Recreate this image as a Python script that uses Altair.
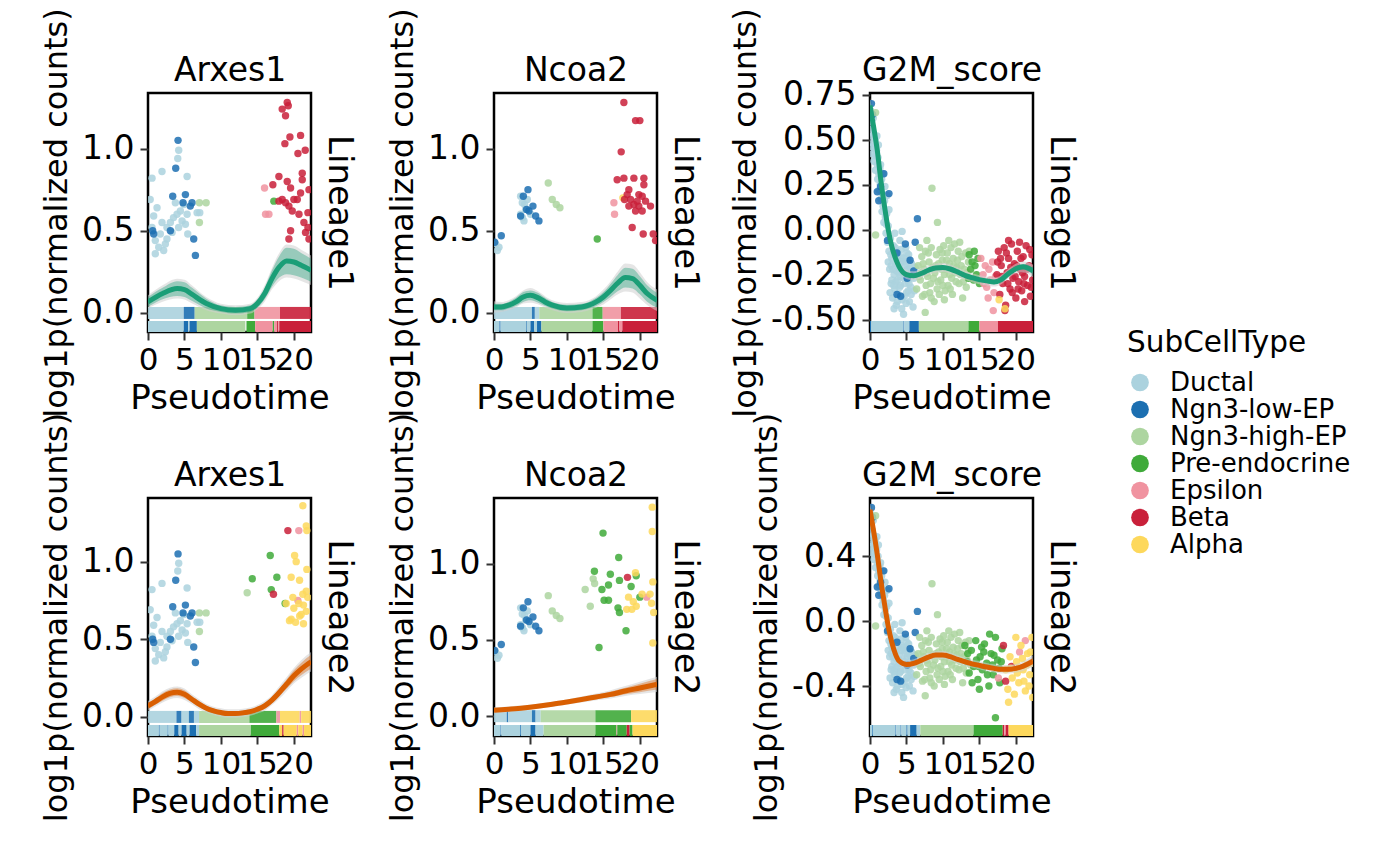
import altair as alt
import pandas as pd

FONT = "DejaVu Sans"
TYPES = ["Ductal", "Ngn3-low-EP", "Ngn3-high-EP", "Pre-endocrine", "Epsilon", "Beta", "Alpha"]
COLORS = ["#ABD2DE", "#1C6FB1", "#ADD5A0", "#3FAA3A", "#F093A0", "#C9203A", "#FDD85C"]
CODE = {"D": "Ductal", "L": "Ngn3-low-EP", "H": "Ngn3-high-EP", "P": "Pre-endocrine",
        "E": "Epsilon", "B": "Beta", "A": "Alpha"}
GREEN = "#1B9E77"
ORANGE = "#D95F02"
X_DOMAIN = [0, 22.35]
X_TICKS = [0, 5, 10, 15, 20]

# ---------------- Arxes1 ----------------
ARX_EARLY_DUCTAL = [(0.55,0.82),(1.92,0.86),(0.30,0.69),(0.78,0.59),(0.55,0.52),(1.00,0.44),(1.00,0.36),(1.47,0.40),
    (2.15,0.38),(1.92,0.55),(2.60,0.52),(3.07,0.55),(2.60,0.45),(3.50,0.58),(3.98,0.60),(4.44,0.62),(4.67,0.56),
    (4.20,0.52),(3.30,0.49),(5.36,0.83),(4.08,0.94),(4.21,0.99),(4.90,0.66),(5.36,0.60),(5.13,0.54),(5.45,0.48),
    (6.73,0.61),(7.10,0.61),(3.75,0.67),(1.24,0.64),(1.69,0.48),(2.38,0.42)]
ARX_EARLY_LOW = [(4.12,1.05),(3.80,0.88),(3.39,0.71),(5.13,0.72),(4.80,0.67),(6.04,0.67),(5.80,0.65),(0.64,0.50),
    (3.07,0.50),(6.27,0.45),(6.50,0.35),(0.78,0.48)]
ARX_EARLY_HIGH = [(7.05,0.67),(7.97,0.67),(7.05,0.55)]
ARX_L1_PRE = [(17.26,0.68)]
ARX_L1_EPS = [(15.98,0.76),(16.12,0.60),(16.58,0.60)]
ARX_L1_BETA = [(19.09,1.28),(19.23,1.26),(18.40,1.24),(18.86,1.20),(19.46,1.07),(20.92,1.08),(18.77,1.03),(21.56,0.99),
    (20.56,0.97),(17.95,0.83),(17.12,0.78),(19.09,0.80),(19.55,0.76),(21.15,0.85),(21.15,0.81),(20.92,0.73),(20.47,0.69),
    (18.40,0.69),(18.86,0.67),(19.32,0.65),(19.78,0.62),(20.70,0.60),(22.07,0.75),(21.93,0.61),(21.38,0.55),(21.93,0.52),
    (21.60,0.49),(19.55,0.50),(19.32,0.45),(22.07,0.45),(17.95,0.68),(20.00,0.69)]
ARX_L2_HIGH = [(13.6,0.80)]
ARX_L2_PRE = [(16.76,1.04),(14.3,0.89),(17.67,0.90),(16.9,0.82),(18.8,0.73)]
ARX_L2_BETA = [(19.18,1.20),(17.2,0.79)]
ARX_L2_EPS = [(20.68,1.20),(20.55,0.75)]
ARX_L2_ALPHA = [(21.23,1.36),(21.78,1.20),(21.7,1.23),(20.1,1.04),(20.32,1.00),(19.63,0.90),(20.78,0.88),(21.78,0.95),
    (21.7,0.81),(21.23,0.79),(19.86,0.77),(20.68,0.73),(21.32,0.72),(18.95,0.73),(20.0,0.70),(21.0,0.66),(19.63,0.63),
    (19.4,0.62),(20.23,0.61),(21.32,0.60),(21.7,0.68),(20.8,0.65),(21.9,0.77)]

ARX_L1_ZERO = [(0,4.9,"D"),(4.9,6.4,"L"),(6.4,13.6,"H"),(13.6,14.6,"P"),(14.6,18.1,"E"),(18.1,22.35,"B")]
ARX_L1_RUG = [(0,4.9,"D"),(4.9,5.5,"L"),(5.5,5.7,"D"),(5.7,6.7,"L"),(6.7,13.35,"H"),(13.5,14.7,"P"),(14.7,17.1,"E"),
    (17.1,17.3,"P"),(17.3,17.7,"E"),(17.7,17.85,"B"),(17.85,18.0,"E"),(18.0,22.35,"B")]
ARX_L2_ZERO = [(0,3.9,"D"),(3.9,4.6,"L"),(4.6,5.6,"D"),(5.6,6.3,"L"),(6.3,7.0,"D"),(7.0,13.9,"H"),(13.9,17.6,"P"),
    (17.6,18.1,"E"),(18.1,20.8,"A"),(20.8,21.0,"E"),(21.0,22.35,"A")]
ARX_L2_RUG = [(0,1.5,"D"),(1.5,1.6,"L"),(1.6,2.7,"D"),(2.7,2.8,"L"),(2.8,3.6,"D"),(3.6,4.2,"L"),(4.2,4.6,"D"),
    (4.6,5.3,"L"),(5.3,5.7,"D"),(5.7,6.6,"L"),(6.6,7.0,"D"),(7.0,14.1,"H"),(14.1,18.0,"P"),(18.0,18.4,"A"),
    (18.4,18.6,"B"),(18.6,20.4,"A"),(20.4,20.6,"E"),(20.6,21.2,"A"),(21.2,21.4,"E"),(21.4,22.35,"A")]

ARX_L1_LX = [0, 2, 4, 5, 6, 8, 10, 12, 14, 15, 16, 17, 18, 19, 20, 21, 22.35]
ARX_L1_LY = [0.067, 0.118, 0.148, 0.142, 0.114, 0.057, 0.026, 0.016, 0.026, 0.057, 0.118, 0.209, 0.280, 0.316, 0.310, 0.290, 0.260]
ARX_L1_CSE = [0.03, 0.035, 0.045, 0.045, 0.04, 0.03, 0.02, 0.02, 0.02, 0.025, 0.035, 0.05, 0.065, 0.08, 0.08, 0.075, 0.07]
ARX_L1_GSE = [0.04, 0.05, 0.06, 0.06, 0.055, 0.04, 0.03, 0.03, 0.03, 0.035, 0.05, 0.065, 0.085, 0.10, 0.10, 0.095, 0.09]
ARX_L2_LX = [0, 1, 2, 3, 4, 5, 6, 7, 8, 9, 10, 11, 12, 13, 14, 15, 16, 17, 18, 19, 20, 21, 22.35]
ARX_L2_LY = [0.071, 0.099, 0.129, 0.151, 0.159, 0.146, 0.114, 0.082, 0.056, 0.039, 0.028, 0.022, 0.022, 0.026,
    0.034, 0.049, 0.071, 0.108, 0.157, 0.211, 0.265, 0.308, 0.355]
ARX_L2_CSE = [0.02, 0.02, 0.025, 0.025, 0.025, 0.025, 0.02, 0.02, 0.015, 0.015, 0.015, 0.015, 0.015, 0.015,
    0.015, 0.015, 0.02, 0.02, 0.025, 0.03, 0.035, 0.04, 0.045]
ARX_L2_GSE = [0.032, 0.032, 0.037, 0.037, 0.037, 0.037, 0.032, 0.032, 0.027, 0.027, 0.027, 0.027, 0.027, 0.027,
    0.027, 0.027, 0.032, 0.032, 0.04, 0.045, 0.05, 0.057, 0.063]

# ---------------- Ncoa2 ----------------
NCOA_EARLY_DUCTAL = [(0.23,0.42),(0.46,0.38),(0.68,0.40),(3.65,0.71),(3.88,0.67),(3.65,0.60),(4.11,0.56),(4.34,0.63),
    (4.57,0.69),(5.02,0.60),(3.9,0.58),(4.2,0.66)]
NCOA_EARLY_LOW = [(0.09,0.43),(1.00,0.47),(4.66,0.75),(4.02,0.71),(3.65,0.59),(4.47,0.63),(5.34,0.65),(5.71,0.59),
    (6.16,0.56),(4.79,0.62)]
NCOA_EARLY_HIGH = [(7.44,0.79),(7.99,0.69),(8.54,0.66),(9.04,0.64)]
NCOA_L1_PRE = [(14.16,0.45)]
NCOA_L1_EPS = [(16.44,0.67),(16.53,0.60)]
NCOA_L1_ALPHA = [(17.67,0.70)]
NCOA_L1_BETA = [(17.81,1.28),(19.41,1.17),(20.0,1.17),(17.44,0.98),(16.89,0.81),(17.81,0.82),(19.18,0.82),(20.55,0.82),
    (20.55,0.78),(18.49,0.75),(18.26,0.72),(18.72,0.69),(19.86,0.72),(20.32,0.71),(20.78,0.68),(19.18,0.66),(18.49,0.65),
    (19.86,0.65),(21.46,0.65),(19.41,0.62),(20.32,0.62),(18.95,0.52),(20.46,0.48),(21.83,0.48),(22.15,0.44),(17.9,0.69),
    (19.63,0.68)]
NCOA_L2_HIGH = [(12.5,0.83),(13.2,0.72),(13.6,0.90),(13.8,0.87)]
NCOA_L2_PRE = [(14.95,1.20),(17.1,1.04),(13.77,0.95),(15.95,0.93),(17.2,0.89),(14.8,0.83),(15.7,0.86),(18.8,0.85),
    (15.1,0.76),(15.7,0.76),(17.0,0.71),(17.2,0.68),(18.1,0.56),(14.4,0.45),(19.5,0.92),(20.0,0.78)]
NCOA_L2_BETA = [(18.3,0.91)]
NCOA_L2_EPS = [(20.95,0.78)]
NCOA_L2_ALPHA = [(21.7,1.37),(21.7,1.21),(19.4,0.94),(18.45,0.78),(19.1,0.75),(19.5,0.72),(20.3,0.80),(21.4,0.80),
    (21.6,0.74),(21.9,0.68),(18.2,0.70),(18.9,0.70),(21.77,0.88),(21.77,0.48)]

NCOA_L1_ZERO = [(0,5.2,"D"),(5.2,5.6,"L"),(5.6,6.2,"D"),(6.2,13.5,"H"),(13.5,14.9,"P"),(14.9,17.4,"E"),(17.4,22.35,"B")]
NCOA_L1_RUG = [(0,0.75,"D"),(0.75,0.9,"L"),(0.9,4.4,"D"),(4.4,4.5,"L"),(4.5,5.0,"D"),(5.0,5.5,"L"),(5.5,5.9,"D"),
    (5.9,6.5,"L"),(6.5,13.5,"H"),(13.5,15.0,"P"),(15.0,17.0,"E"),(17.0,17.2,"B"),(17.2,17.6,"E"),(17.6,22.35,"B")]
NCOA_L2_ZERO = [(0,1.75,"D"),(1.75,1.95,"L"),(1.95,5.2,"D"),(5.2,5.7,"L"),(5.7,6.4,"D"),(6.4,13.9,"H"),
    (13.9,18.8,"P"),(18.8,22.35,"A")]
NCOA_L2_RUG = [(0,0.9,"D"),(0.9,1.0,"L"),(1.0,3.6,"D"),(3.6,3.7,"L"),(3.7,5.0,"D"),(5.0,5.7,"L"),(5.7,6.8,"D"),
    (6.8,13.9,"H"),(13.9,16.8,"P"),(16.8,16.9,"E"),(16.9,18.2,"P"),(18.2,18.6,"B"),(18.6,19.0,"P"),(19.0,22.35,"A")]

NCOA_L1_LX = [0, 1, 2, 3, 4, 5, 6, 7, 8, 10, 12, 13, 14, 15, 16, 17, 18, 19, 20, 21, 22.35]
NCOA_L1_LY = [0.036, 0.036, 0.047, 0.067, 0.097, 0.107, 0.093, 0.067, 0.047, 0.030, 0.036, 0.047, 0.067, 0.097,
    0.138, 0.183, 0.215, 0.209, 0.168, 0.118, 0.077]
NCOA_L1_CSE = [0.02, 0.02, 0.02, 0.025, 0.03, 0.03, 0.03, 0.025, 0.02, 0.02, 0.02, 0.02, 0.025, 0.03, 0.04, 0.05,
    0.06, 0.06, 0.055, 0.05, 0.045]
NCOA_L1_GSE = [0.035, 0.03, 0.03, 0.035, 0.04, 0.045, 0.04, 0.035, 0.03, 0.03, 0.03, 0.03, 0.035, 0.045, 0.055,
    0.07, 0.085, 0.085, 0.08, 0.07, 0.065]
NCOA_L2_LX = [0, 2, 4, 6, 8, 10, 12, 14, 16, 18, 20, 22.35]
NCOA_L2_LY = [0.039, 0.046, 0.054, 0.065, 0.078, 0.093, 0.109, 0.126, 0.143, 0.165, 0.185, 0.209]
NCOA_L2_CSE = [0.012, 0.01, 0.01, 0.01, 0.01, 0.01, 0.012, 0.014, 0.018, 0.022, 0.028, 0.035]
NCOA_L2_GSE = [0.02, 0.018, 0.017, 0.017, 0.017, 0.017, 0.02, 0.022, 0.027, 0.032, 0.04, 0.05]

# ---------------- G2M_score ----------------
G2M_EARLY_DUCTAL = [(0.1,0.66),(0.2,0.60),(0.15,0.52),(0.3,0.56),(0.4,0.48),(0.35,0.42),(0.5,0.53),(0.6,0.45),
    (0.55,0.38),(0.7,0.50),(0.8,0.41),(0.75,0.33),(0.9,0.44),(1.0,0.36),(1.05,0.28),(1.1,0.40),(1.2,0.31),(1.25,0.22),
    (1.35,0.34),(1.4,0.25),(1.5,0.17),(1.6,0.28),(1.65,0.10),(1.7,0.20),(1.8,0.13),(1.9,0.04),(2.0,0.16),(2.1,0.07),
    (2.2,-0.02),(2.3,0.09),(2.4,-0.07),(2.5,0.02),(2.6,-0.12),(2.7,-0.22),(2.8,-0.05),(2.9,-0.30),(3.0,-0.16),
    (3.1,-0.38),(3.2,-0.09),(3.3,-0.25),(3.4,-0.33),(3.5,-0.19),(3.6,-0.42),(3.7,-0.12),(3.8,-0.28),(3.9,-0.36),
    (4.0,-0.21),(4.1,-0.06),(4.2,-0.31),(4.3,-0.15),(4.4,-0.39),(4.5,-0.24),(4.6,-0.47),(4.7,-0.18),(4.8,-0.30),
    (4.9,-0.10),(5.0,-0.35),(5.1,-0.22),(5.2,-0.28),(5.3,-0.14),(5.4,-0.40),(5.5,-0.25),(5.6,-0.32),(5.7,-0.19),
    (5.9,-0.43),(6.0,-0.27),(6.2,-0.21),(3.4,-0.02),(4.4,-0.01),(2.9,-0.20),(3.3,-0.44),(3.8,-0.17),(4.2,-0.26),
    (4.7,-0.37),(5.2,-0.17),(3.0,-0.28),(2.5,-0.18),(2.2,0.03),(2.75,-0.35),(3.15,-0.22),(3.45,-0.10),(3.55,-0.29),
    (3.75,-0.40),(3.95,-0.24),(4.05,-0.32),(4.25,-0.11),(4.35,-0.44),(4.55,-0.16),(4.65,-0.27),(4.85,-0.20),
    (4.95,-0.41),(5.05,-0.13),(5.25,-0.34),(5.45,-0.21),(5.65,-0.36),(5.8,-0.26),(6.1,-0.34),(2.85,-0.14),
    (3.25,-0.31),(3.65,-0.23),(4.15,-0.18),(4.75,-0.25),(5.35,-0.30),(1.15,0.47),(1.45,0.36),(1.75,0.31),
    (0.95,0.52),(2.05,0.24),(2.35,0.19),(2.6,0.11),(0.45,0.62),(0.25,0.46)]
G2M_EARLY_LOW = [(0.2,0.70),(0.35,0.64),(1.0,0.21),(1.2,0.16),(1.45,0.24),(1.9,0.31),(2.6,0.20),(2.4,-0.06),
    (3.7,-0.13),(4.85,-0.08),(6.2,-0.07),(6.5,0.06),(5.5,-0.17),(3.7,-0.36),(4.2,-0.37),(5.1,-0.27),(6.0,-0.23)]
G2M_EARLY_HIGH = [(0.77,-0.03),(0.77,0.65),(8.5,0.23),(9.25,0.04),(7.8,-0.06),(7.57,-0.46),(6.6,-0.20),(6.4,-0.33),
    (7.1,-0.15),(6.9,-0.28),(7.2,-0.37),(7.6,-0.12),(7.4,-0.22),(7.7,-0.31),(8.1,-0.18),(7.9,-0.26),(8.2,-0.35),
    (8.4,-0.10),(8.6,-0.21),(8.3,-0.30),(9.1,-0.14),(8.9,-0.24),(9.2,-0.33),(8.8,-0.40),(9.6,-0.11),(9.4,-0.19),
    (9.7,-0.28),(10.1,-0.09),(9.9,-0.17),(10.2,-0.25),(10.3,-0.34),(10.6,-0.13),(10.4,-0.22),(10.7,-0.31),
    (11.1,-0.10),(10.9,-0.19),(11.2,-0.27),(11.3,-0.36),(11.6,-0.08),(11.4,-0.16),(11.7,-0.24),(12.1,-0.12),
    (11.9,-0.21),(12.2,-0.30),(12.6,-0.15),(12.4,-0.25),(12.7,-0.38),(13.1,-0.13),(12.9,-0.22),(13.2,-0.32),
    (13.5,-0.18),(13.8,-0.27),(6.8,-0.10),(9.5,-0.36),(10.8,-0.06),(12.3,-0.07),(6.7,-0.26),(7.3,-0.19),
    (7.8,-0.24),(8.0,-0.13),(8.7,-0.27),(9.0,-0.20),(9.3,-0.29),(9.8,-0.22),(10.0,-0.31),(10.5,-0.17),(10.9,-0.25),
    (11.5,-0.20),(11.8,-0.29),(12.0,-0.17),(12.5,-0.20),(12.8,-0.29),(13.3,-0.24),(13.6,-0.12),(7.5,-0.36),
    (8.4,-0.38),(10.2,-0.39),(11.0,-0.33),(9.9,-0.13),(7.0,-0.24)]
G2M_L1_PRE = [(13.6,-0.14),(13.8,-0.22),(14.0,-0.18),(14.2,-0.28),(14.4,-0.20),(14.6,-0.25),(14.8,-0.16),(15.0,-0.30),
    (13.5,-0.27),(14.3,-0.12)]
G2M_L1_EPS = [(15.2,-0.16),(15.5,-0.25),(15.8,-0.20),(16.0,-0.32),(16.3,-0.22),(16.5,-0.28),(16.8,-0.18),(17.0,-0.35),
    (17.2,-0.26),(16.2,-0.38),(16.9,-0.45),(15.6,-0.30)]
G2M_L1_BETA = [(17.4,-0.25),(17.6,-0.12),(17.8,-0.36),(18.0,-0.20),(18.2,-0.30),(18.4,-0.10),(18.6,-0.42),(18.8,-0.24),
    (19.0,-0.16),(19.2,-0.33),(19.4,-0.08),(19.6,-0.27),(19.8,-0.19),(20.0,-0.38),(20.2,-0.12),(20.4,-0.29),
    (20.6,-0.22),(20.8,-0.34),(21.0,-0.15),(21.2,-0.26),(21.4,-0.09),(21.6,-0.31),(21.8,-0.20),(22.0,-0.37),
    (22.2,-0.14),(22.3,-0.28),(18.5,-0.45),(21.2,-0.40),(19.0,-0.06),(20.5,-0.07),(17.9,-0.16),(19.5,-0.35),
    (20.9,-0.24),(21.9,-0.11),(17.5,-0.18),(18.1,-0.26),(18.9,-0.30),(19.3,-0.21),(19.9,-0.26),(20.3,-0.33),
    (20.7,-0.16),(21.1,-0.30),(21.5,-0.22),(22.1,-0.32),(18.7,-0.13),(20.1,-0.20)]
G2M_L1_ALPHA = [(17.7,-0.39),(18.5,-0.44)]
G2M_L2_PRE = [(13.0,-0.15),(13.3,-0.25),(13.6,-0.32),(13.9,-0.18),(14.2,-0.28),(14.5,-0.12),(14.8,-0.36),(15.1,-0.22),
    (15.4,-0.30),(15.7,-0.14),(16.0,-0.26),(16.3,-0.40),(16.6,-0.20),(16.9,-0.33),(17.2,-0.10),(17.5,-0.24),
    (17.8,-0.38),(18.1,-0.17),(16.4,-0.08),(17.2,-0.595),(15.0,-0.42),(14.0,-0.38),(15.6,-0.19),(16.8,-0.27),
    (13.4,-0.20),(14.6,-0.24),(15.3,-0.16),(16.1,-0.33),(17.0,-0.21),(17.7,-0.29),(18.0,-0.25),(14.9,-0.28)]
G2M_L2_BETA = [(18.3,-0.15),(18.6,-0.37),(19.4,-0.28)]
G2M_L2_EPS = [(17.6,-0.35),(20.5,-0.19),(21.3,-0.12)]
G2M_L2_ALPHA = [(18.6,-0.30),(18.9,-0.42),(19.2,-0.22),(19.5,-0.35),(19.8,-0.45),(20.1,-0.25),(20.4,-0.38),
    (20.7,-0.15),(21.0,-0.30),(21.3,-0.43),(21.6,-0.20),(21.9,-0.33),(22.2,-0.10),(22.3,-0.47),(20.0,-0.10),
    (21.8,-0.40),(19.0,-0.50),(22.1,-0.26),(19.3,-0.29),(20.2,-0.32),(20.9,-0.23),(21.5,-0.27),(22.0,-0.19),
    (21.1,-0.37)]

G2M_L1_RUG = [(0,0.15,"L"),(0.15,4.6,"D"),(4.6,4.7,"L"),(4.7,5.4,"D"),(5.4,6.7,"L"),(6.7,13.5,"H"),(13.5,15.0,"P"),
    (15.0,17.55,"E"),(17.55,22.35,"B")]
G2M_L2_RUG = [(0,0.3,"D"),(0.3,0.4,"L"),(0.4,3.5,"D"),(3.5,3.6,"L"),(3.6,4.2,"D"),(4.2,4.3,"L"),(4.3,5.0,"D"),
    (5.0,5.15,"L"),(5.15,5.5,"D"),(5.5,6.4,"L"),(6.4,6.9,"D"),(6.9,14.2,"H"),(14.2,18.2,"P"),(18.2,18.4,"B"),
    (18.4,18.6,"E"),(18.6,19.0,"B"),(19.0,22.35,"A")]

G2M_LX = [0, 0.5, 1, 1.5, 2, 2.5, 3, 3.5, 4, 5, 6, 7, 8, 9, 10, 11, 12, 13, 14, 15, 16, 17, 18, 19, 20, 21, 22.35]
G2M_L1_LY = [0.69, 0.57, 0.44, 0.27, 0.126, 0.0, -0.096, -0.16, -0.207, -0.25, -0.257, -0.244, -0.226, -0.213,
    -0.211, -0.219, -0.235, -0.254, -0.267, -0.278, -0.285, -0.291, -0.278, -0.244, -0.217, -0.207, -0.23]
G2M_L2_LY = [0.687, 0.554, 0.41, 0.246, 0.103, -0.031, -0.133, -0.205, -0.246, -0.267, -0.26, -0.242, -0.222,
    -0.209, -0.209, -0.219, -0.236, -0.25, -0.263, -0.273, -0.283, -0.291, -0.297, -0.297, -0.291, -0.277, -0.246]
G2M_CSE = [0.03, 0.02, 0.015, 0.013, 0.012, 0.012, 0.012, 0.012, 0.012, 0.012, 0.012, 0.012, 0.012, 0.012,
    0.012, 0.012, 0.012, 0.012, 0.012, 0.012, 0.012, 0.012, 0.012, 0.013, 0.014, 0.016, 0.02]
G2M_GSE = [0.045, 0.035, 0.03, 0.027, 0.025, 0.025, 0.025, 0.025, 0.025, 0.025, 0.025, 0.025, 0.025, 0.025,
    0.025, 0.025, 0.025, 0.025, 0.025, 0.025, 0.025, 0.025, 0.025, 0.026, 0.027, 0.03, 0.035]


def pts_df(groups):
    rows = []
    for code, pairs in groups:
        for x, y in pairs:
            rows.append({"x": x, "y": y, "type": CODE[code]})
    return pd.DataFrame(rows)


def seg_df(segs):
    return pd.DataFrame({"start": [s[0] for s in segs], "end": [s[1] for s in segs],
                         "type": [CODE[s[2]] for s in segs]})


def line_df(xs, ys, cse, gse):
    return pd.DataFrame({
        "x": xs, "y": ys,
        "clo": [y - c for y, c in zip(ys, cse)], "chi": [y + c for y, c in zip(ys, cse)],
        "glo": [y - g for y, g in zip(ys, gse)], "ghi": [y + g for y, g in zip(ys, gse)],
    })


def panel(title, lineage, lcolor, groups, zero, rug, lx, ly, cse, gse, ydom, yticks, ydec, h):
    xs = alt.Scale(domain=X_DOMAIN, nice=False, zero=False)
    ys = alt.Scale(domain=ydom, nice=False, zero=False)
    cs = alt.Scale(domain=TYPES, range=COLORS)
    lab = ("datum.value < 0 ? '-' + format(-datum.value, '.%df') : format(datum.value, '.%df')" % (ydec, ydec))
    xaxis = alt.Axis(values=X_TICKS, format="d", title="Pseudotime", labelOverlap=False, labelFlush=False,
                     labelBound=False, labelPadding=5, titlePadding=6, tickSize=8, labelFontSize=31)
    yaxis = alt.Axis(values=yticks, labelExpr=lab, title="log1p(normalized counts)", labelOverlap=False,
                     labelPadding=6, titlePadding=8, tickSize=8, titleFontSize=32)
    taxis = alt.Axis(orient="top", title=title, labels=False, ticks=False, domain=False, titlePadding=13,
                     titleBaseline="alphabetic", titleFontSize=33)
    raxis = alt.Axis(orient="right", title=lineage, labels=False, ticks=False, domain=False, titlePadding=10)

    ld = line_df(lx, ly, cse, gse)
    point = alt.Chart(pts_df(groups)).mark_circle(size=55, opacity=0.85, clip=True).encode(
        x=alt.X("x:Q", scale=xs, axis=xaxis),
        y=alt.Y("y:Q", scale=ys, axis=yaxis),
        color=alt.Color("type:N", scale=cs, legend=alt.Legend(title="SubCellType")),
    )
    layers = [point]
    if zero:
        layers.append(alt.Chart(seg_df(zero)).mark_rule(strokeWidth=12, opacity=0.9, clip=True).encode(
            x=alt.X("start:Q", scale=xs, axis=None), x2="end:Q",
            y=alt.YDatum(0, axis=None),
            color=alt.Color("type:N", scale=cs, legend=None),
        ))
    layers.append(alt.Chart(seg_df(rug)).mark_rect(clip=True).encode(
        x=alt.X("start:Q", scale=xs, axis=None), x2="end:Q",
        y=alt.value(h - 11), y2=alt.value(h),
        color=alt.Color("type:N", scale=cs, legend=None),
    ))
    layers.append(alt.Chart(ld).mark_area(color="#CFCFCF", opacity=0.55, interpolate="monotone", clip=True).encode(
        x=alt.X("x:Q", scale=xs, axis=None), y=alt.Y("glo:Q", scale=ys, axis=None), y2="ghi:Q"))
    layers.append(alt.Chart(ld).mark_area(color=lcolor, opacity=0.38, interpolate="monotone", clip=True).encode(
        x=alt.X("x:Q", scale=xs, axis=None), y=alt.Y("clo:Q", scale=ys, axis=None), y2="chi:Q"))
    layers.append(alt.Chart(ld).mark_line(color=lcolor, strokeWidth=5, interpolate="monotone", clip=True).encode(
        x=alt.X("x:Q", scale=xs, axis=taxis), y=alt.Y("y:Q", scale=ys, axis=raxis)))
    return alt.layer(*layers).resolve_axis(x="independent", y="independent").properties(width=163, height=h)


def spacer(w, h):
    return alt.Chart(pd.DataFrame({"v": [0]})).mark_point(opacity=0).encode(
        x=alt.X("v:Q", axis=None), y=alt.Y("v:Q", axis=None)
    ).properties(width=w, height=h, view=alt.ViewBackground(strokeOpacity=0))


p1 = panel("Arxes1", "Lineage1", GREEN,
           [("D", ARX_EARLY_DUCTAL), ("L", ARX_EARLY_LOW), ("H", ARX_EARLY_HIGH), ("P", ARX_L1_PRE),
            ("E", ARX_L1_EPS), ("B", ARX_L1_BETA)],
           ARX_L1_ZERO, ARX_L1_RUG, ARX_L1_LX, ARX_L1_LY, ARX_L1_CSE, ARX_L1_GSE,
           [-0.116, 1.338], [0, 0.5, 1.0], 1, 239)
p2 = panel("Ncoa2", "Lineage1", GREEN,
           [("D", NCOA_EARLY_DUCTAL), ("L", NCOA_EARLY_LOW), ("H", NCOA_EARLY_HIGH), ("P", NCOA_L1_PRE),
            ("E", NCOA_L1_EPS), ("A", NCOA_L1_ALPHA), ("B", NCOA_L1_BETA)],
           NCOA_L1_ZERO, NCOA_L1_RUG, NCOA_L1_LX, NCOA_L1_LY, NCOA_L1_CSE, NCOA_L1_GSE,
           [-0.116, 1.338], [0, 0.5, 1.0], 1, 239)
p3 = panel("G2M_score", "Lineage1", GREEN,
           [("D", G2M_EARLY_DUCTAL), ("L", G2M_EARLY_LOW), ("H", G2M_EARLY_HIGH), ("P", G2M_L1_PRE),
            ("E", G2M_L1_EPS), ("B", G2M_L1_BETA), ("A", G2M_L1_ALPHA)],
           None, G2M_L1_RUG, G2M_LX, G2M_L1_LY, G2M_CSE, G2M_GSE,
           [-0.569, 0.759], [-0.5, -0.25, 0, 0.25, 0.5, 0.75], 2, 239)
p4 = panel("Arxes1", "Lineage2", ORANGE,
           [("D", ARX_EARLY_DUCTAL), ("L", ARX_EARLY_LOW), ("H", ARX_EARLY_HIGH), ("H", ARX_L2_HIGH),
            ("P", ARX_L2_PRE), ("B", ARX_L2_BETA), ("E", ARX_L2_EPS), ("A", ARX_L2_ALPHA)],
           ARX_L2_ZERO, ARX_L2_RUG, ARX_L2_LX, ARX_L2_LY, ARX_L2_CSE, ARX_L2_GSE,
           [-0.123, 1.41], [0, 0.5, 1.0], 1, 238)
p5 = panel("Ncoa2", "Lineage2", ORANGE,
           [("D", NCOA_EARLY_DUCTAL), ("L", NCOA_EARLY_LOW), ("H", NCOA_EARLY_HIGH), ("H", NCOA_L2_HIGH),
            ("P", NCOA_L2_PRE), ("B", NCOA_L2_BETA), ("E", NCOA_L2_EPS), ("A", NCOA_L2_ALPHA)],
           NCOA_L2_ZERO, NCOA_L2_RUG, NCOA_L2_LX, NCOA_L2_LY, NCOA_L2_CSE, NCOA_L2_GSE,
           [-0.13, 1.43], [0, 0.5, 1.0], 1, 238)
p6 = panel("G2M_score", "Lineage2", ORANGE,
           [("D", G2M_EARLY_DUCTAL), ("L", G2M_EARLY_LOW), ("H", G2M_EARLY_HIGH), ("P", G2M_L2_PRE),
            ("B", G2M_L2_BETA), ("E", G2M_L2_EPS), ("A", G2M_L2_ALPHA)],
           None, G2M_L2_RUG, G2M_LX, G2M_L2_LY, G2M_CSE, G2M_GSE,
           [-0.708, 0.759], [-0.4, 0, 0.4], 1, 238)

chart = alt.concat(
    p1, spacer(183, 239), p2, spacer(213, 239), p3,
    p4, spacer(183, 238), p5, spacer(213, 238), p6,
    columns=5, spacing={"row": 166, "column": 0},
).properties(
    bounds="flush",
    autosize=alt.AutoSizeParams(type="none"),
    padding={"left": 140, "top": 85, "right": 1244, "bottom": 765},
).resolve_scale(
    color="shared"
).configure_axis(
    labelFont=FONT, titleFont=FONT, labelFontSize=33, titleFontSize=34, titleFontWeight="normal",
    labelColor="black", titleColor="black", tickColor="#333333", tickWidth=2, grid=False, domain=False,
).configure_legend(
    orient="none", legendX=979, legendY=236, titleFont=FONT, labelFont=FONT, titleFontSize=29.5,
    labelFontSize=26, titleFontWeight="normal", titleColor="black", labelColor="black",
    symbolType="circle", symbolSize=315, symbolStrokeWidth=0, symbolOpacity=1, labelOffset=17,
    rowPadding=1, titlePadding=11, labelLimit=400, padding=0,
).configure_view(stroke="black", strokeWidth=2.5)

chart.save("out.html", embed_options={"renderer": "svg", "actions": False})
